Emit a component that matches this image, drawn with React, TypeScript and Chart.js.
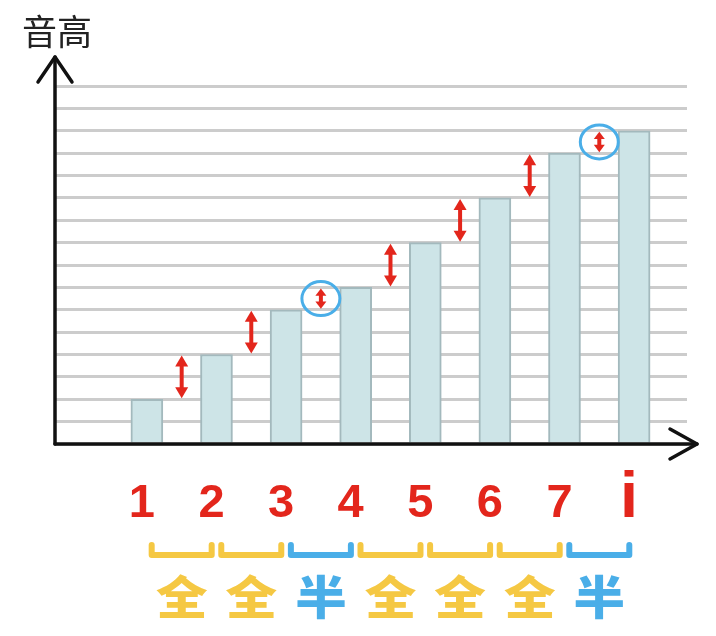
import React, { useEffect, useRef } from "react";
import { Chart, registerables } from "chart.js";

Chart.register(...registerables);

// ---- data ----
const noteLabels = ["1", "2", "3", "4", "5", "6", "7", "i"];
const notePositions = [1, 2, 3, 4, 5, 6, 7, 8];
const pitchValues = [2, 4, 6, 7, 9, 11, 13, 14];
const stepLabels = ["全", "全", "半", "全", "全", "全", "半"];
const stepKinds = ["whole", "whole", "half", "whole", "whole", "whole", "half"];
const yAxisTitle = "音高";
const yMin = 0;
const yMax = 16;
const xMin = -0.32;
const xMax = 8.76;

// ---- styles ----
const RED = "#e3261c";
const YELLOW = "#f5c843";
const BLUE = "#4aaee8";
const BAR_FILL = "#cde4e7";
const BAR_BORDER = "#a3b9bd";
const GRID = "#cccccc";

function doubleArrow(ctx: CanvasRenderingContext2D, x: number, yTop: number, yBot: number) {
  const len = yBot - yTop;
  const head = Math.min(11, len * 0.36);
  const hw = len < 30 ? 5.5 : 6.5;
  ctx.strokeStyle = RED;
  ctx.fillStyle = RED;
  ctx.lineWidth = 4;
  ctx.lineCap = "butt";
  ctx.beginPath();
  ctx.moveTo(x, yTop + head - 1);
  ctx.lineTo(x, yBot - head + 1);
  ctx.stroke();
  ctx.beginPath();
  ctx.moveTo(x, yTop);
  ctx.lineTo(x - hw, yTop + head);
  ctx.lineTo(x + hw, yTop + head);
  ctx.closePath();
  ctx.fill();
  ctx.beginPath();
  ctx.moveTo(x, yBot);
  ctx.lineTo(x - hw, yBot - head);
  ctx.lineTo(x + hw, yBot - head);
  ctx.closePath();
  ctx.fill();
}

const overlayPlugin = {
  id: "overlay",
  afterDatasetsDraw(chart: any) {
    const ctx: CanvasRenderingContext2D = chart.ctx;
    const xs = chart.scales.x;
    const ys = chart.scales.y;
    const area = chart.chartArea;
    ctx.save();

    // axes with arrows
    ctx.strokeStyle = "#111111";
    ctx.lineWidth = 3.5;
    ctx.lineCap = "round";
    ctx.lineJoin = "round";
    const ax = area.left;
    const ay = area.bottom;
    const yTip = area.top - 29;
    ctx.beginPath();
    ctx.moveTo(ax, ay);
    ctx.lineTo(ax, yTip);
    ctx.stroke();
    ctx.beginPath();
    ctx.moveTo(ax - 17, yTip + 25);
    ctx.lineTo(ax, yTip);
    ctx.lineTo(ax + 17, yTip + 25);
    ctx.stroke();
    const xTip = area.right + 10;
    ctx.beginPath();
    ctx.moveTo(ax, ay);
    ctx.lineTo(xTip, ay);
    ctx.stroke();
    ctx.beginPath();
    ctx.moveTo(xTip - 27, ay - 15);
    ctx.lineTo(xTip, ay);
    ctx.lineTo(xTip - 27, ay + 15);
    ctx.stroke();

    // axis title
    ctx.fillStyle = "#222222";
    ctx.font = "35px 'Noto Sans CJK SC'";
    ctx.textAlign = "center";
    ctx.textBaseline = "middle";
    ctx.fillText(yAxisTitle, ax + 2, 24);

    // step arrows + circles
    for (let i = 0; i < stepKinds.length; i++) {
      const x = xs.getPixelForValue((notePositions[i] + notePositions[i + 1]) / 2);
      const yTop = ys.getPixelForValue(pitchValues[i + 1]);
      const yBot = ys.getPixelForValue(pitchValues[i]);
      doubleArrow(ctx, x, yTop + 1, yBot - 1);
      if (stepKinds[i] === "half") {
        ctx.strokeStyle = BLUE;
        ctx.lineWidth = 3;
        ctx.beginPath();
        ctx.ellipse(x, (yTop + yBot) / 2, 19, 17, 0, 0, Math.PI * 2);
        ctx.stroke();
      }
    }

    // note labels
    ctx.fillStyle = RED;
    ctx.textAlign = "center";
    ctx.textBaseline = "alphabetic";
    for (let i = 0; i < noteLabels.length; i++) {
      const x = xs.getPixelForValue(notePositions[i]) - 5;
      const lab = noteLabels[i];
      ctx.font = lab === "i" ? "bold 65px 'Liberation Sans'" : "bold 47px 'Liberation Sans'";
      ctx.fillText(lab, x, ay + 73);
    }

    // brackets + step labels
    for (let i = 0; i < stepLabels.length; i++) {
      const x = xs.getPixelForValue((notePositions[i] + notePositions[i + 1]) / 2);
      const col = stepKinds[i] === "half" ? BLUE : YELLOW;
      ctx.strokeStyle = col;
      ctx.lineWidth = 6;
      ctx.lineCap = "round";
      ctx.lineJoin = "round";
      const top = ay + 101;
      const bot = ay + 111;
      ctx.beginPath();
      ctx.moveTo(x - 30, top);
      ctx.lineTo(x - 30, bot);
      ctx.lineTo(x + 30, bot);
      ctx.lineTo(x + 30, top);
      ctx.stroke();
      ctx.fillStyle = col;
      ctx.font = "900 46px 'Noto Sans CJK SC'";
      ctx.textAlign = "center";
      ctx.textBaseline = "middle";
      ctx.save();
      ctx.translate(x, ay + 153);
      ctx.scale(1.12, 1);
      ctx.fillText(stepLabels[i], 0, 0);
      ctx.restore();
    }

    ctx.restore();
  },
};

export default function App() {
  const canvasRef = useRef<HTMLCanvasElement | null>(null);

  useEffect(() => {
    if (!canvasRef.current) return;
    const chart = new Chart(canvasRef.current, {
      type: "bar",
      data: {
        datasets: [
          {
            data: pitchValues.map((v, i) => ({ x: notePositions[i], y: v })),
            backgroundColor: BAR_FILL,
            borderColor: BAR_BORDER,
            borderWidth: 2,
            barThickness: 32,
          },
        ],
      },
      options: {
        responsive: false,
        animation: false,
        devicePixelRatio: 1,
        layout: { padding: { left: 47, top: 78, right: 21, bottom: 184 } },
        plugins: { legend: { display: false }, tooltip: { enabled: false } },
        scales: {
          x: {
            type: "linear",
            min: xMin,
            max: xMax,
            offset: false,
            display: false,
          },
          y: {
            min: yMin,
            max: yMax,
            ticks: { display: false, stepSize: 1 },
            border: { display: false },
            grid: { color: GRID, lineWidth: 3, drawTicks: false },
          },
        },
      },
      plugins: [overlayPlugin],
    } as any);
    return () => chart.destroy();
  }, []);

  return (
    <div style={{ width: 700, height: 620 }}>
      <canvas ref={canvasRef} width={700} height={620} style={{ display: "block" }} />
    </div>
  );
}
